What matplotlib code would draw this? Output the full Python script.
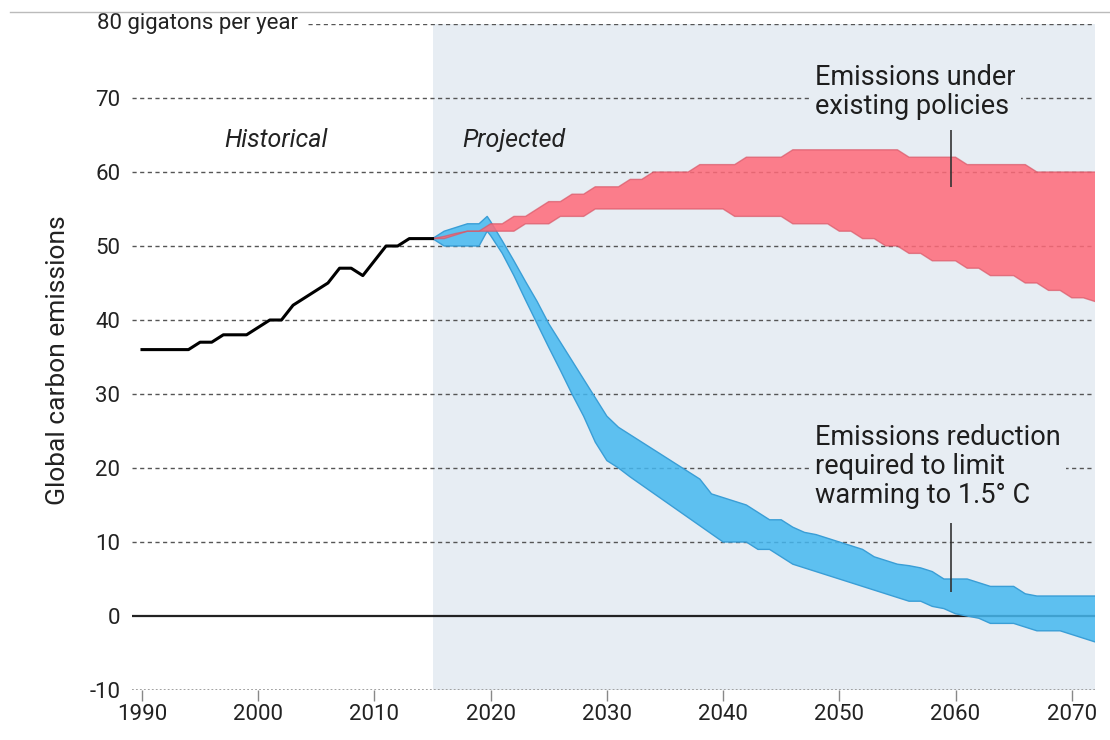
import matplotlib
matplotlib.use("Agg")
import matplotlib.pyplot as plt
from matplotlib.lines import Line2D
import matplotlib.transforms as mtransforms

plt.rcParams['font.family'] = ['Roboto', 'DejaVu Sans']

# historical emissions, gigatons per year
hist_years = list(range(1990, 2016))
hist_vals = [36, 36, 36, 36, 36, 37, 37, 38, 38, 38, 39, 40, 40, 42, 43,
             44, 45, 47, 47, 46, 48, 50, 50, 51, 51, 51]

# existing policies band
red_years = list(range(2015, 2073))
red_hi = [51, 51.3, 51.7, 52, 52, 53, 53, 54, 54, 55,
          56, 56, 57, 57, 58, 58, 58, 59, 59, 60,
          60, 60, 60, 61, 61, 61, 61, 62, 62, 62,
          62, 63, 63, 63, 63, 63, 63, 63, 63, 63,
          63, 62, 62, 62, 62, 62, 61, 61, 61, 61,
          61, 61, 60, 60, 60, 60, 60, 60]
red_lo = [51, 51, 51.5, 52, 52, 52, 52, 52, 53, 53,
          53, 54, 54, 54, 55, 55, 55, 55, 55, 55,
          55, 55, 55, 55, 55, 55, 54, 54, 54, 54,
          54, 53, 53, 53, 53, 52, 52, 51, 51, 50,
          50, 49, 49, 48, 48, 48, 47, 47, 46, 46,
          46, 45, 45, 44, 44, 43, 43, 42.5]

# 1.5 C pathway band
blue_years = [2015, 2016, 2017, 2018, 2019, 2019.7] + list(range(2020, 2073))
blue_hi = [51, 52, 52.5, 53, 53, 54,
           53.3, 50.7, 48, 45.2, 42.5, 39.5, 37, 34.5, 32, 29.5,
           27, 25.5, 24.5, 23.5, 22.5, 21.5, 20.5, 19.5, 18.5, 16.5,
           16, 15.5, 15, 14, 13, 13, 12, 11.3, 11, 10.5,
           10, 9.5, 9, 8, 7.5, 7, 6.8, 6.5, 6, 5,
           5, 5, 4.5, 4, 4, 4, 3, 2.7, 2.7, 2.7,
           2.7, 2.7, 2.7]
blue_lo = [51, 50, 50, 50, 50, 52,
           51.4, 49, 46, 42.7, 39.5, 36.3, 33.2, 30, 27, 23.5,
           21, 20, 18.8, 17.7, 16.6, 15.5, 14.4, 13.3, 12.2, 11.1,
           10, 10, 10, 9, 9, 8, 7, 6.5, 6, 5.5,
           5, 4.5, 4, 3.5, 3, 2.5, 2, 2, 1.3, 1,
           0.3, 0, -0.3, -1, -1, -1, -1.5, -2, -2, -2,
           -2.5, -3, -3.5]

ytick_vals = [-10, 0, 10, 20, 30, 40, 50, 60, 70]
xtick_vals = [1990, 2000, 2010, 2020, 2030, 2040, 2050, 2060, 2070]

bg = '#e7edf3'

fig = plt.figure(figsize=(11.1, 7.4), dpi=100)
ax = fig.add_axes([132 / 1110, 1 - 690 / 740, (1095 - 132) / 1110, (690 - 24) / 740])
ax.set_xlim(1989.14, 2072)
ax.set_ylim(-10, 80)
for s in ax.spines.values():
    s.set_visible(False)

# projected period shading
ax.axvspan(2015, 2072, color=bg, zorder=0.5, lw=0)

# gridlines
for v in ytick_vals[2:]:
    ax.axhline(v, color='#555555', lw=1, ls=(0, (3, 2.5)), zorder=1)
ax.hlines(80, 2004.3, 2072, color='#555555', lw=1, ls=(0, (3, 2.5)), zorder=1)
ax.axhline(-10, color='#9a9a9a', lw=1.3, ls=(0, (1, 1.2)), zorder=1)
ax.axhline(0, color='#222222', lw=1.6, zorder=1.2)

# bands
ax.fill_between(blue_years, blue_lo, blue_hi, facecolor='#45b8f0', alpha=0.85, lw=0, zorder=3)
ax.plot(blue_years, blue_hi, color='#3a9ed6', lw=1, zorder=3.1)
ax.plot(blue_years, blue_lo, color='#3a9ed6', lw=1, zorder=3.1)
ax.fill_between(red_years, red_lo, red_hi, facecolor='#ff6a79', alpha=0.85, lw=0, zorder=3.2)
ax.plot(red_years, red_hi, color='#d95767', lw=1, alpha=0.7, zorder=3.3)
ax.plot(red_years, red_lo, color='#d95767', lw=1, alpha=0.7, zorder=3.3)

ax.plot(hist_years, hist_vals, color='black', lw=2.2, zorder=4)

# ticks
ax.set_yticks(ytick_vals)
ax.set_yticklabels([str(v) for v in ytick_vals])
ax.set_xticks(xtick_vals)
ax.set_xticklabels([str(v) for v in xtick_vals])
ax.tick_params(axis='y', length=0, pad=8.5, labelsize=16, labelcolor='#222222')
ax.tick_params(axis='x', length=8, width=1, color='#888888', pad=2,
               labelsize=16, labelcolor='#222222')

trans = mtransforms.blended_transform_factory(ax.transAxes, ax.transData)
ax.text(-0.0363, 80, '80 gigatons per year', transform=trans, ha='left', va='center',
        fontsize=16, color='#222222')

fig.text(58 / 1110, 1 - 360 / 740, 'Global carbon emissions', rotation=90,
         ha='center', va='center', fontsize=19, color='#222222')

ax.text(2001.5, 64.3, 'Historical', style='italic', fontsize=18, ha='center', va='center',
        color='#222222')
ax.text(2022.0, 64.3, 'Projected', style='italic', fontsize=18, ha='center', va='center',
        color='#222222')

box = dict(facecolor=bg, edgecolor='none', pad=4)
ax.text(2047.9, 70.8, 'Emissions under\nexisting policies', fontsize=19.5, ha='left',
        va='center', linespacing=1.12, color='#1e1e1e', bbox=box, zorder=5)
ax.text(2047.9, 20.2, 'Emissions reduction\nrequired to limit\nwarming to 1.5° C',
        fontsize=19.5, ha='left', va='center', linespacing=1.1, color='#1e1e1e',
        bbox=box, zorder=5)

# pointer lines
ax.vlines(2059.6, 58, 65.7, color='#333333', lw=1.2, zorder=5)
ax.vlines(2059.6, 3.2, 12.6, color='#333333', lw=1.2, zorder=5)

# top rule
fig.add_artist(Line2D([0.009, 1], [0.984, 0.984], color='#bbbbbb', lw=1))

fig.savefig('out.png', dpi=100)
